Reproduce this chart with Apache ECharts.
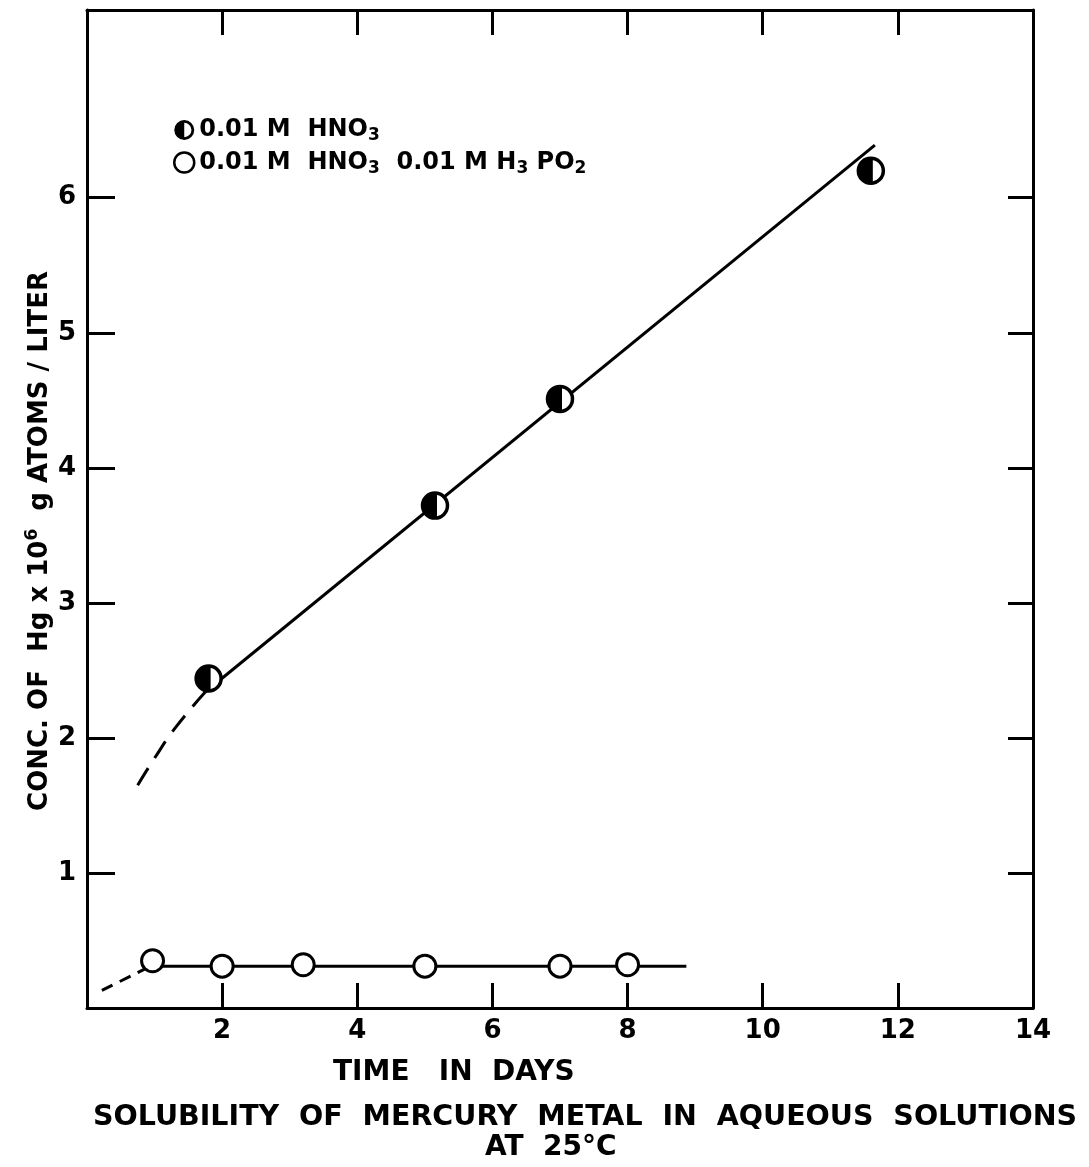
<!DOCTYPE html>
<html><head><meta charset="utf-8">
<script src="https://cdn.jsdelivr.net/npm/echarts@6/dist/echarts.min.js"></script>
<style>html,body{margin:0;padding:0;background:#fff}#c{width:1089px;height:1167px}</style>
</head><body><div id="c"></div>
<script>
// Data
const hno3Points = [[1.8, 2.44], [5.15, 3.72], [7.0, 4.51], [11.6, 6.2]];
const hno3Fit = [[1.75, 2.34], [11.66, 6.39]];
const hno3Extrap = [[0.75, 1.65], [1.0, 1.85], [1.3, 2.07], [1.75, 2.34]];
const h3po2Points = [[0.97, 0.35], [2.0, 0.31], [3.2, 0.32], [5.0, 0.31], [7.0, 0.31], [8.0, 0.32]];
const h3po2Fit = [[0.97, 0.31], [8.87, 0.31]];
const h3po2Extrap = [[0.22, 0.13], [0.5, 0.2], [0.86, 0.29]];
const xTicks = [2, 4, 6, 8, 10, 12, 14];
const xInnerTicks = [2, 4, 6, 8, 10, 12];
const yTicks = [1, 2, 3, 4, 5, 6];

const FONT = 'DejaVu Sans';
const halfIcon = 'path://M50,0 A50,50 0 1,1 50,100 A50,50 0 1,1 50,0 Z M50,14 A36,36 0 1,0 50,86 A36,36 0 1,0 50,14 Z M50,14 A36,36 0 0,0 50,86 Z';
const leftHalf = 'path://M50,0 A50,50 0 0,0 50,100 Z';

const rich = {
  n: {fontFamily: FONT, fontWeight: 'bold', fontSize: 24, color: '#000'},
  sub: {fontFamily: FONT, fontWeight: 'bold', fontSize: 17, color: '#000', verticalAlign: 'bottom', padding: [12, 0, 0, 0]}
};
const legendText = {
  s1: '{n|0.01 M  HNO}{sub|3}',
  s2: '{n|0.01 M  HNO}{sub|3}{n|  0.01 M H}{sub|3}{n| PO}{sub|2}'
};

const axisLine = {onZero: false, lineStyle: {color: '#000', width: 3}};
const tickStyle = {color: '#000', width: 3};
const chart = echarts.init(document.getElementById('c'));
chart.setOption({
  animation: false,
  backgroundColor: '#fff',
  grid: {left: 87, right: 56, top: 10, bottom: 159},
  title: [
    {text: 'TIME   IN  DAYS', left: 328, top: 1054, textStyle: {fontFamily: FONT, fontWeight: 'bold', fontSize: 28, color: '#000'}},
    {text: 'SOLUBILITY  OF  MERCURY  METAL  IN  AQUEOUS  SOLUTIONS', left: 88, top: 1098, textStyle: {fontFamily: FONT, fontWeight: 'bold', fontSize: 28.5, color: '#000'}},
    {text: 'AT  25°C', left: 480, top: 1129, textStyle: {fontFamily: FONT, fontWeight: 'bold', fontSize: 28, color: '#000'}}
  ],
  graphic: [{
    type: 'text', x: 40, y: 541, rotation: Math.PI / 2,
    style: {
      text: '{n|CONC. OF  Hg x 10}{sup|6}{n|  g ATOMS / LITER}', align: 'center', verticalAlign: 'middle',
      rich: {
        n: {fontFamily: FONT, fontWeight: 'bold', fontSize: 26, fill: '#000'},
        sup: {fontFamily: FONT, fontWeight: 'bold', fontSize: 17, fill: '#000', verticalAlign: 'top', padding: [0, 0, 14, 0]}
      }
    }
  }],
  legend: {
    orient: 'vertical', left: 168, top: 113, itemGap: 6, itemWidth: 20, itemHeight: 20,
    data: [{name: 's1', icon: halfIcon, itemStyle: {color: '#000', opacity: 1}}, {name: 's2', icon: 'circle', itemStyle: {color: '#fff', borderColor: '#000', borderWidth: 2.5, opacity: 1}}],
    formatter: n => legendText[n],
    textStyle: {rich: rich},
    selectedMode: false
  },
  xAxis: [
    {type: 'value', min: 0, max: 14, interval: 2, axisLine: axisLine,
     axisTick: {inside: true, length: 25, lineStyle: tickStyle, customValues: xInnerTicks},
     axisLabel: {customValues: xTicks, margin: 10, fontFamily: FONT, fontWeight: 'bold', fontSize: 26, color: '#000'},
     splitLine: {show: false}},
    {type: 'value', position: 'top', min: 0, max: 14, interval: 2, axisLine: axisLine,
     axisTick: {inside: true, length: 25, lineStyle: tickStyle, customValues: xInnerTicks},
     axisLabel: {show: false}, splitLine: {show: false}}
  ],
  yAxis: [
    {type: 'value', min: 0, max: 7.39, axisLine: axisLine,
     axisTick: {inside: true, length: 28, lineStyle: tickStyle, customValues: yTicks},
     axisLabel: {customValues: yTicks, margin: 11, fontFamily: FONT, fontWeight: 'bold', fontSize: 26, color: '#000'},
     splitLine: {show: false}},
    {type: 'value', position: 'right', min: 0, max: 7.39, axisLine: axisLine,
     axisTick: {inside: true, length: 25, lineStyle: tickStyle, customValues: yTicks},
     axisLabel: {show: false}, splitLine: {show: false}}
  ],
  series: [
    {type: 'line', data: hno3Fit, symbol: 'none', lineStyle: {color: '#000', width: 3}, z: 2},
    {type: 'line', data: hno3Extrap, symbol: 'none', smooth: true, lineStyle: {color: '#000', width: 3, type: [20, 12]}, z: 2},
    {type: 'line', data: h3po2Fit, symbol: 'none', lineStyle: {color: '#000', width: 3}, z: 2},
    {type: 'line', data: h3po2Extrap, symbol: 'none', smooth: true, lineStyle: {color: '#000', width: 3, type: [12, 8]}, z: 2},
    {type: 'scatter', name: 'bg', data: hno3Points, symbol: 'circle', symbolSize: 25, itemStyle: {color: '#fff', borderColor: '#000', borderWidth: 3.5, opacity: 1}, z: 3},
    {type: 'scatter', name: 's1', data: hno3Points, symbol: leftHalf, symbolSize: [14, 25], symbolOffset: [-5, 0], itemStyle: {color: '#000', opacity: 1}, z: 4},
    {type: 'scatter', name: 's2', data: h3po2Points, symbol: 'circle', symbolSize: 22, itemStyle: {color: '#fff', borderColor: '#000', borderWidth: 3, opacity: 1}, z: 4}
  ]
});
</script></body></html>
